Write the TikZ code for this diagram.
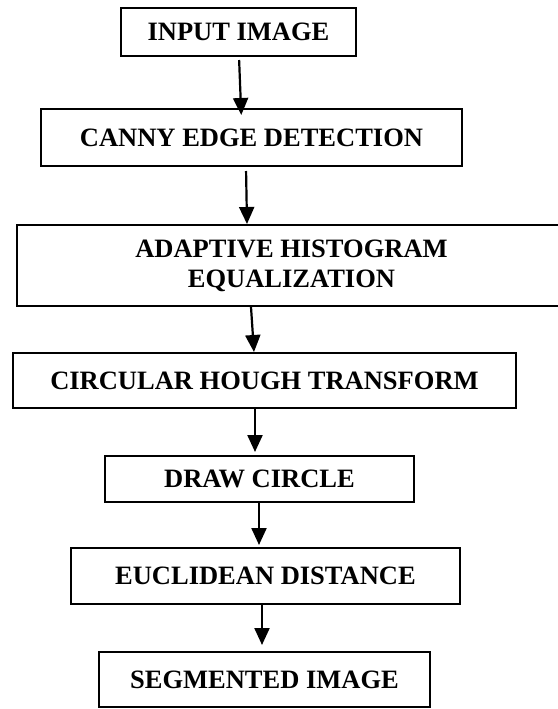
\documentclass[tikz,border=0pt]{standalone}
\usepackage{fontspec}
\setmainfont{Liberation Serif}
\usetikzlibrary{arrows.meta}
\usetikzlibrary{positioning}

\begin{document}
\begin{tikzpicture}[x=0.5pt,y=-0.5pt,
  every node/.style={draw,line width=1pt,inner sep=0pt,align=center,font=\fontsize{13.25}{15}\selectfont\bfseries},
  flow/.style={line width=1.1pt,-{Triangle[width=7.5pt,length=8.5pt]}}]
  \useasboundingbox (0,0) rectangle (558,709);

  \node (in) at (238.5,32)[minimum width=117.5pt,minimum height=24pt]{INPUT IMAGE};
  \node (canny) at (251.5,137.5)[minimum width=210.5pt,minimum height=28.5pt]{CANNY EDGE DETECTION};
  \node (ahe) at (291.5,265.5)[minimum width=274.5pt,minimum height=40.5pt]{ADAPTIVE HISTOGRAM\\EQUALIZATION};
  \node (cht) at (264.5,380.5)[minimum width=251.5pt,minimum height=27.5pt]{CIRCULAR HOUGH TRANSFORM};
  \node (circ) at (259.5,479)[minimum width=154.5pt,minimum height=23pt]{DRAW CIRCLE};
  \node (dist) at (265.5,576)[minimum width=194.5pt,minimum height=28pt]{EUCLIDEAN DISTANCE};
  \node (seg) at (264.5,679.5)[minimum width=165.5pt,minimum height=27.5pt]{SEGMENTED IMAGE};

  \draw[flow,shorten <=1.5pt,shorten >=-3.5pt]([xshift=0.25pt]in.south)--([xshift=-5.25pt]canny.north);
  \draw[flow,shorten <=2pt]([xshift=-2.75pt]canny.south)--([xshift=-22.25pt]ahe.north);
  \draw[flow]([xshift=-20.25pt]ahe.south)--([xshift=-5.25pt]cht.north);
  \draw[flow,shorten >=1.5pt]([xshift=-4.75pt]cht.south)--([xshift=-2.25pt]circ.north);
  \draw[flow,shorten >=1pt]([xshift=-0.25pt]circ.south)--([xshift=-3.25pt]dist.north);
  \draw[flow,shorten >=3pt]([xshift=-1.75pt]dist.south)--([xshift=-1.25pt]seg.north);
\end{tikzpicture}
\end{document}
